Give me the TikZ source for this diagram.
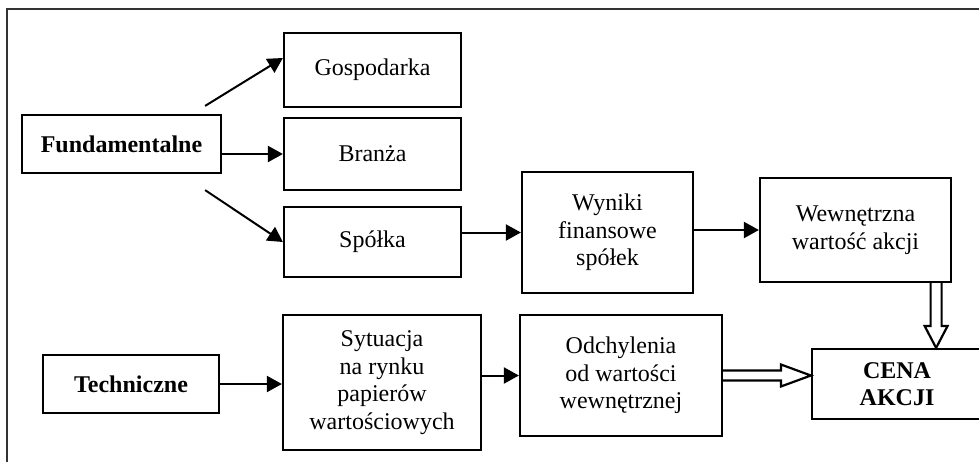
\documentclass[tikz,border=0pt]{standalone}
\usepackage{fontspec}
\setmainfont{Liberation Serif}
\usetikzlibrary{arrows.meta,calc}

\begin{document}
\begin{tikzpicture}[x=0.5pt, y=-0.5pt, line width=1pt]
	\tikzstyle{box}    = [draw, line width=1.1pt, inner sep=0pt, align=center, font=\fontsize{12}{13.8}\selectfont]
	\tikzstyle{boxB}   = [box, font=\fontsize{12}{13.8}\selectfont\bfseries]
	\tikzstyle{arr}    = [-{Triangle[length=7.5pt, width=8pt]}]
	\tikzstyle{hollow} = [line width=1.1pt, line join=miter]

	\useasboundingbox (0,0) rectangle (979,461);
	\clip (0,0) rectangle (979,461);
	\draw[black!80] (7,9) rectangle (1000,480);

	\foreach \nm/\x/\y/\w/\h/\styl/\txt in {fund/121.5/144/199/58/B/Fundamentalne, gosp/372.5/70/177/74//Gospodarka, branza/372.5/154/177/72//Branża, spolka/372.5/242/177/70//Spółka, wyniki/607.5/232.5/171/121//{Wyniki\\finansowe\\spółek}, wewn/855.5/230/191/104//{Wewnętrzna\\wartość akcji}, techn/131/384/176/58/B/Techniczne, sytuacja/382/382.5/198/135//{Sytuacja\\na rynku\\papierów\\wartościowych}, odchyl/621/375.5/202/121//{Odchylenia\\od wartości\\wewnętrznej}, cena/897/384/170/70/B/{CENA\\AKCJI}}
		\node[box\styl, minimum width=\w*0.5pt, minimum height=\h*0.5pt] (\nm) at (\x, \y) {\txt};

	\draw[arr] ($(fund.north east)+(-17,-8)$) -- ($(gosp.west)+(0,-12)$);
	\draw[arr] (fund.east |- branza.west) -- (branza.west);
	\draw[arr] ($(fund.south east)+(-17,16)$) -- (spolka.west);
	\draw[arr] (spolka.east |- wyniki.west) -- (wyniki.west);
	\draw[arr] (wyniki.east |- wewn.west) -- (wewn.west);
	\draw[arr] (techn.east) -- (techn.east -| sytuacja.west);
	\draw[arr] (sytuacja.east |- odchyl.west) -- (odchyl.west);

	% hollow arrows into the price box
	\coordinate (hT) at (odchyl.east -| cena.west);
	\draw[hollow] ($(odchyl.east)+(0,-5)$) -- ($(hT)+(-30,-5)$) -- ($(hT)+(-30,-11)$) -- (hT) -- ($(hT)+(-30,11)$) -- ($(hT)+(-30,5)$) -- ($(odchyl.east)+(0,5)$);
	\coordinate (vS) at ($(wewn.south east)+(-16,0)$);
	\coordinate (vT) at (vS |- cena.north);
	\draw[hollow] ($(vS)+(-5.5,0)$) -- ($(vT)+(-5.5,-22)$) -- ($(vT)+(-11.5,-22)$) -- (vT) -- ($(vT)+(11.5,-22)$) -- ($(vT)+(5.5,-22)$) -- ($(vS)+(5.5,0)$);
\end{tikzpicture}
\end{document}
